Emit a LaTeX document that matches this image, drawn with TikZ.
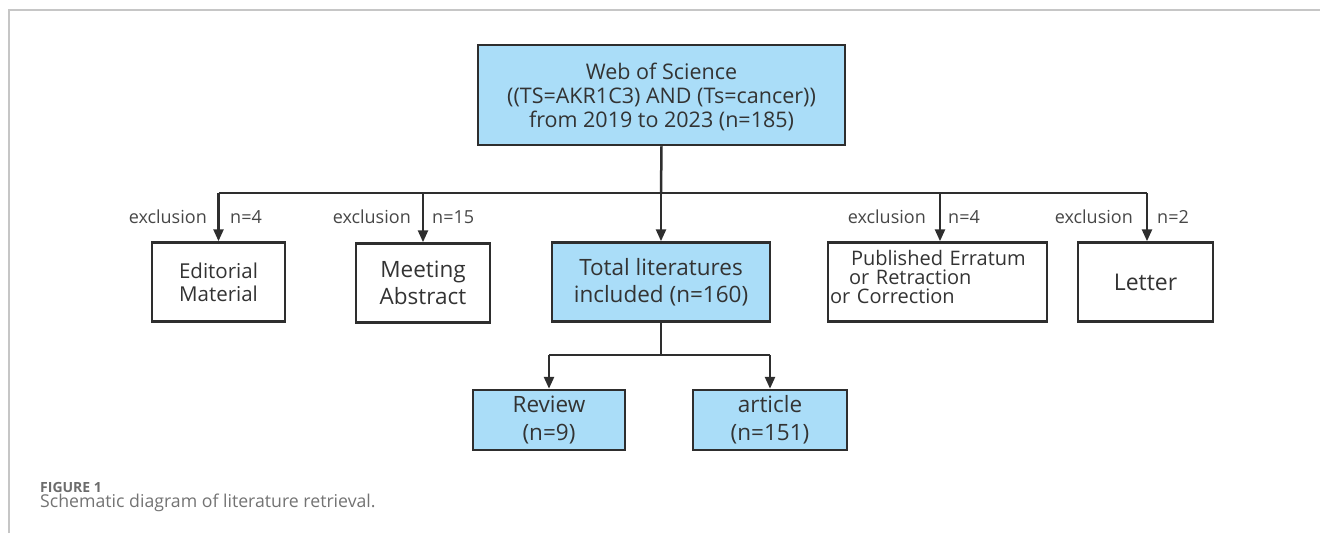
\documentclass[tikz,border=0pt]{standalone}
\usepackage{fontspec}
\setmainfont{Open Sans}
\usetikzlibrary{arrows.meta}
\definecolor{boxblue}{HTML}{AADDF8}
\definecolor{ink}{HTML}{2E2E2E}
\definecolor{txt}{HTML}{333333}
\tikzset{
  box/.style={draw=ink, line width=2.5pt, minimum height=79pt, align=center, inner sep=0pt, text=txt, font=\fontsize{22}{27}\selectfont},
  bluebox/.style={box, fill=boxblue},
  link/.style={draw=ink, line width=2.5pt},
  arr/.style={link, -{Triangle[width=10pt,length=12pt]}},
  lab/.style={text=txt!90!white, font=\fontsize{18}{20}\selectfont, inner sep=0pt},
}
\begin{document}
\begin{tikzpicture}[x=1pt,y=-1pt]
\useasboundingbox (0,0) rectangle (1320,533);
\draw[gray!45, line width=1.5pt] (9,533) -- (9,10) -- (1320,10);

\node[bluebox, minimum width=367pt, minimum height=100pt] (top) at (661.5,95) {};
\node[inner sep=0pt, align=center, text=txt, font=\fontsize{21.5}{24}\selectfont] (topt) at (661.5,97)
  {Web of Science\\((TS=AKR1C3) AND (Ts=cancer))\\from 2019 to 2023 (n=185)};

\node[box, minimum width=133pt, font=\fontsize{20.5}{23}\selectfont] (ed) at (218.5,282) {Editorial\\Material};
\node[box, minimum width=134pt, font=\fontsize{22.5}{27}\selectfont] (me) at (423,283) {Meeting\\Abstract};
\node[bluebox, minimum width=218pt, font=\fontsize{22.5}{27}\selectfont] (tot) at (661,282) {Total literatures\\included (n=160)};
\node[box, minimum width=219pt] (pub) at (937.5,282) {};
\node[inner sep=0pt, text width=217pt, align=left, text=txt, font=\fontsize{20}{19}\selectfont] (pubt) at (938.5,277)
  {\hspace*{21pt}Published Erratum\\\hspace*{19pt}or Retraction\\or Correction};
\node[box, minimum width=135pt, font=\fontsize{23}{27}\selectfont] (let) at (1145.5,282) {Letter};

\node[bluebox, minimum width=152pt, minimum height=60pt, font=\fontsize{22.5}{28}\selectfont] (rev) at (549,420) {Review\\(n=9)};
\node[bluebox, minimum width=154pt, minimum height=60pt, font=\fontsize{22.5}{28}\selectfont] (art) at (770,420) {article\\(n=151)};

\coordinate (hb) at (661,193);
\coordinate (lb) at (661,355);

\draw[link] (top.south) -- (hb);
\draw[link] (ed.north |- hb) -- ([xshift=1.5pt]let.north |- hb);
\draw[arr] (ed.north |- hb) -- (ed.north);
\draw[arr] (me.north |- hb) -- (me.north);
\draw[arr] (hb) -- (tot.north);
\draw[arr] ([xshift=2.5pt]pub.north |- hb) -- ([xshift=2.5pt]pub.north);
\draw[arr] ([xshift=1.5pt]let.north |- hb) -- ([xshift=1.5pt]let.north);

\draw[link] (tot.south) -- (lb);
\draw[link] (rev.north |- lb) -- (art.north |- lb);
\draw[arr] (rev.north |- lb) -- (rev.north);
\draw[arr] (art.north |- lb) -- (art.north);

\node[lab, anchor=east] (l1) at (207,217) {exclusion};
\node[lab, anchor=west] (n1) at (230,217) {n=4};
\node[lab, anchor=east] (l2) at (411,217) {exclusion};
\node[lab, anchor=west] (n2) at (432,217) {n=15};
\node[lab, anchor=east] (l3) at (926,217) {exclusion};
\node[lab, anchor=west] (n3) at (948,217) {n=4};
\node[lab, anchor=east] (l4) at (1133,217) {exclusion};
\node[lab, anchor=west] (n4) at (1157,217) {n=2};

\node[anchor=west, inner sep=0pt, text=gray!85!black, font=\fontsize{14}{16}\selectfont\bfseries] (fig) at (40,487) {FIGURE 1};
\node[anchor=west, inner sep=0pt, text=gray!90!black, font=\fontsize{17.7}{20}\selectfont] (cap) at (40,503) {Schematic diagram of literature retrieval.};
\end{tikzpicture}
\end{document}
